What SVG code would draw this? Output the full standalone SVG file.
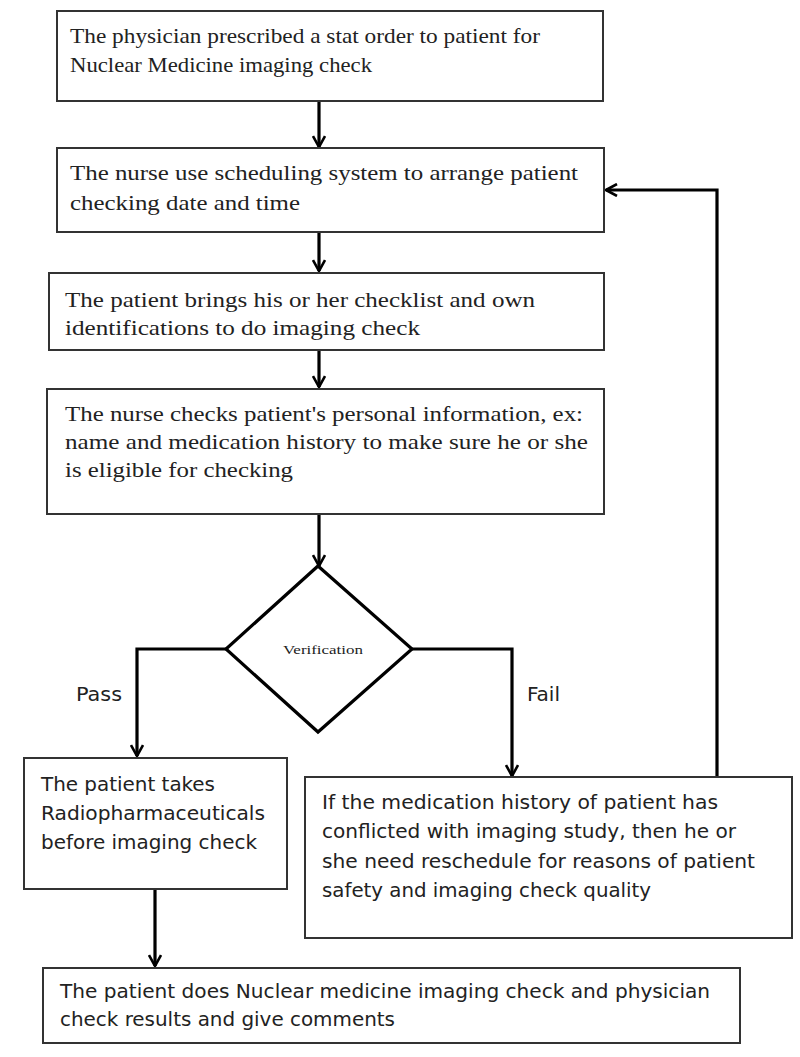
<svg xmlns="http://www.w3.org/2000/svg" width="800" height="1057" viewBox="0 0 800 1057">
<defs>
<marker id="arr" markerUnits="userSpaceOnUse" viewBox="0 0 14 14" markerWidth="14" markerHeight="14" refX="12" refY="7" orient="auto">
<path d="M1,1 L12,7 L1,13" fill="none" stroke="#000" stroke-width="2.6"/>
</marker>
<style>
.box{fill:#fff;stroke:#333;stroke-width:2}
.con{fill:none;stroke:#000;stroke-width:3.2;marker-end:url(#arr)}
.serif{font-family:"Liberation Serif","Times New Roman",serif;font-size:21px;fill:#222}
.sans{font-family:"DejaVu Sans Condensed","Liberation Sans",sans-serif;font-size:20px;fill:#222}
</style>
</defs>
<rect width="800" height="1057" fill="#fff"/>
<g id="connectors">
<line class="con" x1="319" y1="101" x2="319" y2="147"/>
<line class="con" x1="319" y1="232" x2="319" y2="271"/>
<line class="con" x1="319" y1="350" x2="319" y2="387"/>
<line class="con" x1="319" y1="514" x2="319" y2="566"/>
<polyline class="con" points="226,649 137,649 137,756"/>
<polyline class="con" points="412,649 512,649 512,776"/>
<polyline class="con" points="717,777 717,190 606,190"/>
<line class="con" x1="155" y1="889" x2="155" y2="966"/>
</g>
<g id="n1">
<rect class="box" x="57" y="11" width="546" height="90"/>
<text class="serif" x="70" y="43" textLength="470" lengthAdjust="spacingAndGlyphs">The physician prescribed a stat order to patient for</text>
<text class="serif" x="70" y="72" textLength="302" lengthAdjust="spacingAndGlyphs">Nuclear Medicine imaging check</text>
</g>
<g id="n2">
<rect class="box" x="57" y="148" width="547" height="84"/>
<text class="serif" x="70" y="180" textLength="508" lengthAdjust="spacingAndGlyphs">The nurse use scheduling system to arrange patient</text>
<text class="serif" x="70" y="210" textLength="230" lengthAdjust="spacingAndGlyphs">checking date and time</text>
</g>
<g id="n3">
<rect class="box" x="49" y="273" width="555" height="77"/>
<text class="serif" x="65" y="307" textLength="470" lengthAdjust="spacingAndGlyphs">The patient brings his or her checklist and own</text>
<text class="serif" x="65" y="335" textLength="355" lengthAdjust="spacingAndGlyphs">identifications to do imaging check</text>
</g>
<g id="n4">
<rect class="box" x="47" y="389" width="557" height="125"/>
<text class="serif" x="65" y="421" textLength="518" lengthAdjust="spacingAndGlyphs">The nurse checks patient's personal information, ex:</text>
<text class="serif" x="65" y="449" textLength="523" lengthAdjust="spacingAndGlyphs">name and medication history to make sure he or she</text>
<text class="serif" x="65" y="477" textLength="228" lengthAdjust="spacingAndGlyphs">is eligible for checking</text>
</g>
<g id="decision">
<polygon points="318,566 412,649 318,732 226,649" fill="#fff" stroke="#000" stroke-width="3.2"/>
<text x="283" y="654" font-family="Liberation Serif,Times New Roman,serif" font-size="13" fill="#222" textLength="80" lengthAdjust="spacingAndGlyphs">Verification</text>
</g>
<g id="labels">
<text class="sans" x="76" y="701" textLength="46" lengthAdjust="spacingAndGlyphs">Pass</text>
<text class="sans" x="527" y="701" textLength="33" lengthAdjust="spacingAndGlyphs">Fail</text>
</g>
<g id="n5">
<rect class="box" x="24" y="758" width="263" height="131"/>
<text class="sans" x="41" y="791" textLength="174" lengthAdjust="spacingAndGlyphs">The patient takes</text>
<text class="sans" x="41" y="820" textLength="224" lengthAdjust="spacingAndGlyphs">Radiopharmaceuticals</text>
<text class="sans" x="41" y="849" textLength="216" lengthAdjust="spacingAndGlyphs">before imaging check</text>
</g>
<g id="n6">
<rect class="box" x="305" y="777" width="487" height="161"/>
<text class="sans" x="322" y="809" textLength="396" lengthAdjust="spacingAndGlyphs">If the medication history of patient has</text>
<text class="sans" x="322" y="838" textLength="414" lengthAdjust="spacingAndGlyphs">conflicted with imaging study, then he or</text>
<text class="sans" x="322" y="868" textLength="433" lengthAdjust="spacingAndGlyphs">she need reschedule for reasons of patient</text>
<text class="sans" x="322" y="897" textLength="329" lengthAdjust="spacingAndGlyphs">safety and imaging check quality</text>
</g>
<g id="n7">
<rect class="box" x="43" y="968" width="697" height="75"/>
<text class="sans" x="60" y="998" textLength="650" lengthAdjust="spacingAndGlyphs">The patient does Nuclear medicine imaging check and physician</text>
<text class="sans" x="60" y="1026" textLength="335" lengthAdjust="spacingAndGlyphs">check results and give comments</text>
</g>
</svg>
